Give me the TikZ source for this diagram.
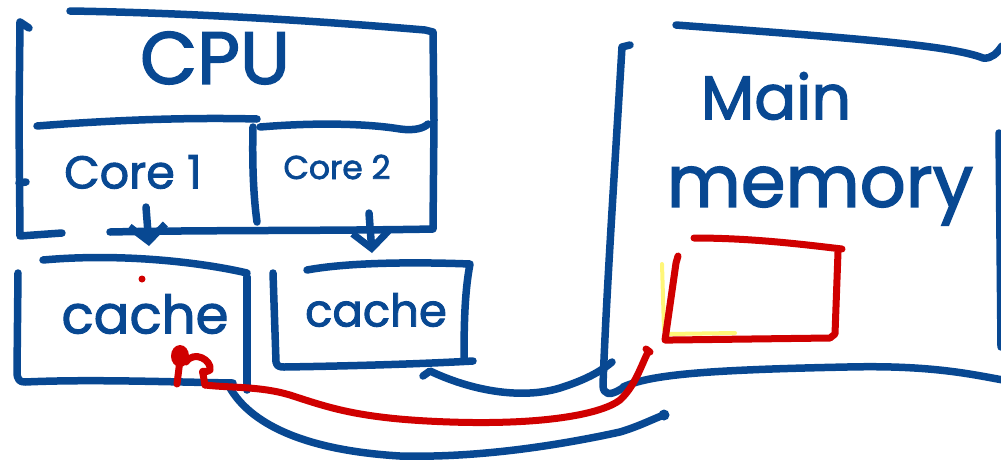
\documentclass[tikz,border=0pt]{standalone}
\usepackage{fontspec}
\newfontfamily\handfont{Poppins}[FakeBold=2]
\usetikzlibrary{arrows.meta}
\definecolor{ink}{RGB}{8,72,146}
\definecolor{redink}{RGB}{208,0,0}
\definecolor{hilite}{RGB}{255,246,120}
\tikzset{
  pen/.style={draw=ink,line width=7.5pt,line cap=round,line join=round},
  redpen/.style={draw=redink,line width=7pt,line cap=round,line join=round},
  label/.style={text=ink,inner sep=0pt},
  barb/.style={-{Straight Barb[length=16pt,width=36pt,line width=7pt]}}
}
\newcommand{\fs}[1]{\fontsize{#1}{#1}\handfont}
\begin{document}
\begin{tikzpicture}[x=1pt,y=-1pt]
\useasboundingbox (0,0) rectangle (1001,459);

% ---------- CPU package ----------
\draw[pen] (70,11) .. controls (200,13) and (330,22) .. (425,30) -- (433,32) -- (434,120) -- (433,229)
           .. controls (330,231) and (200,230) .. (110,232);
\draw[pen] (62,233) -- (20,236) -- (19,120) -- (20,22) -- (29,28);
\draw[pen] (19,183) -- (26,182);
% core divider
\draw[pen] (37,126) .. controls (100,121) and (180,117) .. (257,119);
\draw[pen] (260,127) .. controls (320,122) and (370,124) .. (400,129) .. controls (415,131) and (424,128) .. (428,124);
\draw[pen] (253,127) .. controls (252,170) and (254,200) .. (257,222);

\node[label,font=\fs{74}] (cpu) at (215,58) {CPU};
\node[label,font=\fs{46}] (core1) at (133,172) {Core 1};
\node[label,font=\fs{33}] (core2) at (337,167) {Core 2};

% ---------- private caches ----------
\draw[pen] (43,260) .. controls (120,253) and (200,262) .. (247,273);
\draw[pen] (247,277) -- (247,390);
\draw[pen] (18,273) -- (17,372) .. controls (17,380) and (20,382) .. (25,382)
           .. controls (90,379) and (170,382) .. (233,383);
\draw[pen] (307,270) .. controls (350,262) and (420,262) .. (470,264) .. controls (465,290) and (464,320) .. (464,360);
\draw[pen] (273,273) -- (276,362) .. controls (277,366) and (279,367) .. (284,367)
           .. controls (350,366) and (420,364) .. (473,361);

\node[label,font=\fs{53}] (cache1) at (145,314) {cache};
\node[label,font=\fs{45}] (cache2) at (376,310) {cache};

% core -> cache arrows
\coordinate (a1s) at (146,207);
\coordinate (a1e) at (149,246);
\coordinate (a2s) at (369,213);
\coordinate (a2e) at (372,253);
\draw[pen,barb] (a1s) -- (a1e);
\draw[pen,barb] (a2s) -- (a2e);

% ---------- main memory ----------
\draw[pen] (676,25) .. controls (850,38) and (950,45) .. (983,58) .. controls (992,59) and (997,53) .. (1002,46);
\draw[pen] (630,45) -- (622,47) .. controls (614,180) and (606,300) .. (603,385)
           .. controls (603,395) and (610,396) .. (621,389);
\draw[pen] (623,387) .. controls (650,375) and (700,370) .. (847,367) .. controls (930,365) and (970,374) .. (1003,380);
\draw[pen] (999,133) -- (1001,347);

\node[label,font=\fs{62}] (main) at (776,96) {Main};
\node[label,font=\fs{72}] (memory) at (820,196) {memory};

% block inside memory
\draw[hilite,line width=4pt,line cap=round] (662,264) -- (664,330);
\draw[hilite,line width=4pt,line cap=round] (668,334) -- (735,333);
\draw[redpen] (694,238) .. controls (750,238) and (800,244) .. (842,249);
\draw[redpen] (838,252) -- (835,334) -- (830,338) -- (672,340) -- (665,340) -- (676,263) -- (678,256);

% ---------- transfers ----------
\coordinate (c2out) at (430,371);
\coordinate (memin1) at (612,362);
\coordinate (c1out) at (230,388);
\coordinate (memin2) at (664,415);
\coordinate (redstart) at (205,385);
\coordinate (redend) at (648,352);

\draw[pen] (423,376) -- (c2out) .. controls (470,390) and (520,400) .. (560,388)
           .. controls (585,380) and (600,372) .. (memin1);
\draw[pen] (c1out) .. controls (250,422) and (300,450) .. (400,456)
           .. controls (480,458) and (560,445) .. (620,432) .. controls (640,426) and (655,418) .. (memin2);
\fill[ink] (memin2) circle (5.5);

% red path from cache line to memory block
\fill[redink] (180,356) ellipse (9 and 11);
\draw[redpen] (180,360) -- (177,384);
\draw[redpen] (186,362) .. controls (194,350) and (212,360) .. (210,370) .. controls (206,374) and (201,368) .. (203,374) -- (redstart);
\draw[redpen] (redstart) .. controls (230,388) and (260,386) .. (290,395)
              .. controls (330,408) and (360,419) .. (450,422)
              .. controls (540,425) and (600,415) .. (620,400)
              .. controls (635,386) and (641,366) .. (redend);
\draw[redpen] (646,349) -- (650,352);
\fill[redink] (142,279) circle (3.5);
\end{tikzpicture}
\end{document}
